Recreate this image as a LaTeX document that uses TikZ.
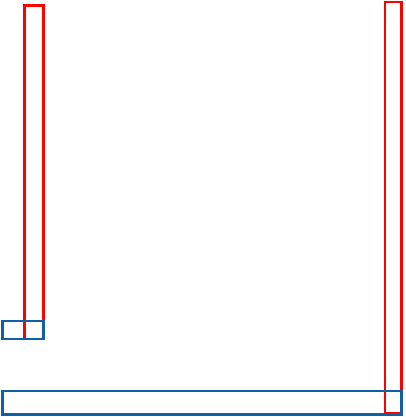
\documentclass[tikz,border=0pt]{standalone}
\definecolor{boxred}{RGB}{255,0,0}
\definecolor{boxblue}{RGB}{16,96,168}
\begin{document}
\begin{tikzpicture}[x=1pt,y=1pt,
  redbar/.style={draw=boxred, line width=2.6pt, rectangle, inner sep=0pt, outer sep=0pt},
  bluebar/.style={draw=boxblue, line width=2.6pt, rectangle, inner sep=0pt, outer sep=0pt}]
\useasboundingbox (0,0) rectangle (405,417);
% red columns
\node[redbar, minimum width=18.6pt, minimum height=333.5pt] (lcol) at (34,244.75) {};
\node[redbar, minimum width=16.5pt, minimum height=411.5pt] (rcol) at (393.25,209.25) {};
% blue bars
\node[bluebar, minimum width=41pt, minimum height=18pt] (lbase) at (23,87) {};
\node[bluebar, minimum width=399.5pt, minimum height=23.5pt] (rbase) at (202,14.25) {};
\end{tikzpicture}
\end{document}
